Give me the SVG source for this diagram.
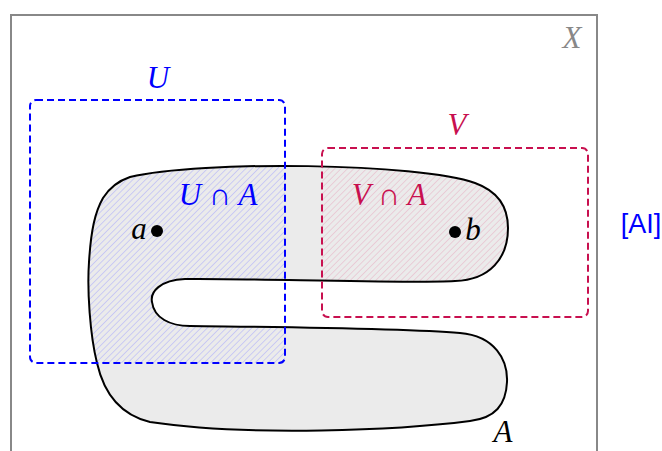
<svg xmlns="http://www.w3.org/2000/svg" width="662" height="451" viewBox="0 0 662 451">
<style>
.math{font-family:"Liberation Serif","DejaVu Serif",serif;font-style:italic;font-size:31px}
.u{fill:#0000ff}
.v{fill:#c8104f}
.dash{fill:none;stroke-width:2;stroke-dasharray:7,4}
</style>
<defs>
<path id="Ashape" d="M130,177 C200,160 420,163 475,183 C500,192 508,210 508,228 C508,258 490,280 455,281 C400,284 250,278 185,279 C160,280 150,292 152,302 C154,318 170,326 190,326 C260,327 400,328 460,333 C495,336 508,360 507,382 C506,405 495,418 470,421 C400,430 250,437 150,422 C125,416 105,398 97,363 C90,335 87,290 89,262 C91,230 95,212 103,198 C110,187 118,181 130,177 Z"/>
<clipPath id="clipA"><use href="#Ashape"/></clipPath>
<pattern id="hatchU" patternUnits="userSpaceOnUse" width="4.5" height="4.5" patternTransform="rotate(45)">
<line x1="0" y1="0" x2="0" y2="4.5" stroke="#9a9aff" stroke-width="0.8"/>
</pattern>
<pattern id="hatchV" patternUnits="userSpaceOnUse" width="4.5" height="4.5" patternTransform="rotate(45)">
<line x1="0" y1="0" x2="0" y2="4.5" stroke="#e6a0b8" stroke-width="0.8"/>
</pattern>
</defs>
<rect id="X" x="11" y="15" width="586" height="450" fill="none" stroke="#888888" stroke-width="2"/>
<g id="A">
<use href="#Ashape" fill="#ebebeb"/>
<g clip-path="url(#clipA)">
<rect x="30" y="100" width="255" height="263" fill="url(#hatchU)"/>
<rect x="322" y="148" width="266" height="169" fill="url(#hatchV)"/>
</g>
<use href="#Ashape" fill="none" stroke="#000" stroke-width="2"/>
</g>
<g id="U">
<rect class="dash" x="30" y="100" width="255" height="263" rx="6" stroke="#0000ff"/>
</g>
<g id="V">
<rect class="dash" x="322" y="148" width="266" height="169" rx="6" stroke="#c8104f"/>
</g>
<g id="points">
<circle cx="157" cy="231" r="6" fill="#000"/>
<circle cx="455" cy="232" r="6" fill="#000"/>
</g>
<g id="labels">
<text class="math" x="572" y="48" text-anchor="middle" fill="#888888">X</text>
<text class="math u" x="158" y="88" text-anchor="middle">U</text>
<text class="math v" x="457" y="135" text-anchor="middle">V</text>
<text class="math u" x="218" y="205" text-anchor="middle">U ∩ A</text>
<text class="math v" x="389" y="205" text-anchor="middle">V ∩ A</text>
<text class="math" x="139" y="239" text-anchor="middle">a</text>
<text class="math" x="473" y="240" text-anchor="middle">b</text>
<text class="math" x="503" y="442" text-anchor="middle">A</text>
<text x="641" y="233" text-anchor="middle" font-family="Liberation Sans, Arial, sans-serif" font-size="27" fill="#0000ff">[AI]</text>
</g>
</svg>
